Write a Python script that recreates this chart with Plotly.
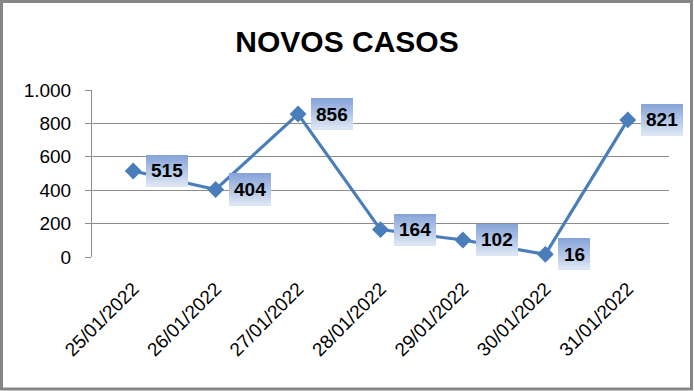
import plotly.graph_objects as go

categories = ["25/01/2022", "26/01/2022", "27/01/2022", "28/01/2022",
              "29/01/2022", "30/01/2022", "31/01/2022"]
values = [515, 404, 856, 164, 102, 16, 821]
title_text = "NOVOS CASOS"
y_ticks = [0, 200, 400, 600, 800, 1000]

W, H = 694, 391
L, R, T, B = 92, 25, 90, 134
pw, ph = W - L - R, H - T - B

fig = go.Figure()
fig.add_trace(go.Scatter(
    x=list(range(len(categories))), y=values, mode="lines+markers",
    line=dict(color="#4a7ebb", width=3.2),
    marker=dict(symbol="diamond", size=13, color="#4a7ebb"),
    hoverinfo="skip", showlegend=False, cliponaxis=False))

shapes = []
annotations = []
top_c = (0x88, 0xa5, 0xd9)
bot_c = (0xdb, 0xe5, 0xf4)
n_str = 16
for i, v in enumerate(values):
    s = str(v)
    bw = round(10.5 * len(s) + 11)
    bh = 31
    gap = 13
    sh = bh / n_str
    for k in range(n_str):
        t = k / (n_str - 1)
        c = tuple(int(top_c[j] + (bot_c[j] - top_c[j]) * t) for j in range(3))
        yc = bh / 2 - (k + 0.5) * sh
        annotations.append(dict(x=i, y=v, xref="x", yref="y", text=" ",
                                showarrow=False, xshift=gap + bw / 2, yshift=yc,
                                width=bw, height=sh + 1, borderpad=0, borderwidth=0,
                                bgcolor="rgb(%d,%d,%d)" % c,
                                font=dict(size=1)))
    annotations.append(dict(x=i, y=v, xref="x", yref="y", text="<b>%s</b>" % s,
                            showarrow=False, xshift=gap + bw / 2, yshift=0,
                            font=dict(family="Liberation Sans", size=19, color="#000")))

# outer border in paper coords
def px(xp):
    return (xp - L) / pw
def py(yp):
    return (H - B - yp) / ph
shapes.append(dict(type="rect", xref="paper", yref="paper",
                   x0=px(1.5), x1=px(691.5), y0=py(1.5), y1=py(389),
                   line=dict(color="#868686", width=3), layer="below"))

fig.update_layout(
    width=W, height=H, margin=dict(l=L, r=R, t=T, b=B),
    paper_bgcolor="white", plot_bgcolor="white",
    separators=",.",
    title=dict(text="<b>%s</b>" % title_text, x=0.5, xref="container", xanchor="center",
               y=1 - 41 / H, yanchor="middle",
               font=dict(family="Liberation Sans", size=30, color="#000")),
    xaxis=dict(tickmode="array", tickvals=list(range(len(categories))),
               ticktext=categories, range=[-0.5, len(categories) - 0.5],
               tickangle=-45, showgrid=False, zeroline=False,
               showline=False, ticks="", ticklabelstandoff=16,
               tickfont=dict(family="Liberation Sans", size=19, color="#000")),
    yaxis=dict(range=[0, 1000], tickvals=y_ticks, tickformat=",d",
               showgrid=True, gridcolor="#8c8c8c", gridwidth=1,
               showline=True, linecolor="#8c8c8c", linewidth=1,
               ticks="outside", ticklen=6, tickcolor="#8c8c8c",
               zeroline=False, ticklabelstandoff=10,
               tickfont=dict(family="Liberation Sans", size=19, color="#000")),
    shapes=shapes, annotations=annotations,
)

# x-axis tick marks at category boundaries
for b in range(len(categories) + 1):
    fig.add_shape(type="line", xref="x", yref="y", ysizemode="pixel", yanchor=0,
                  x0=b - 0.5, x1=b - 0.5, y0=0, y1=-5,
                  line=dict(color="#8c8c8c", width=1), layer="below")

fig.write_html("out.html")
